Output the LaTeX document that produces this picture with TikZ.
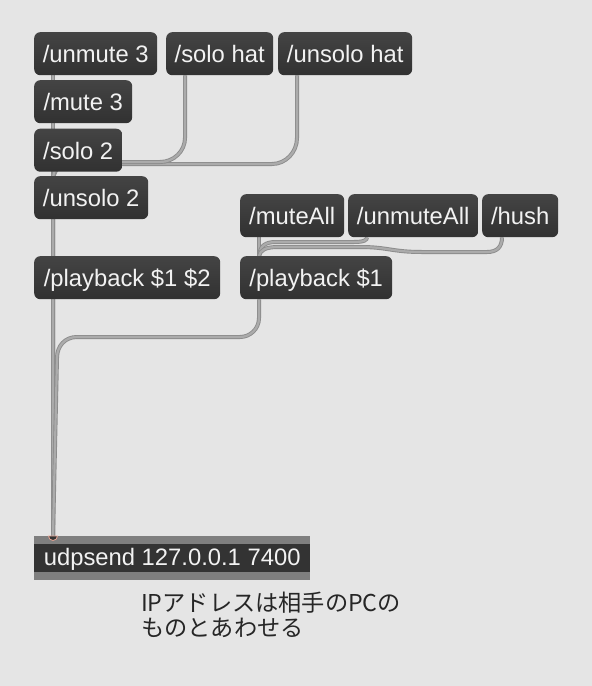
\documentclass[tikz,border=0pt]{standalone}
\usepackage{fontspec}
\setmainfont{Liberation Sans}
\newfontfamily\jpfont{Noto Sans CJK JP}
\usetikzlibrary{calc}
\definecolor{bgc}{HTML}{E5E5E5}
\definecolor{boxtop}{HTML}{444444}
\definecolor{boxbot}{HTML}{313131}
\definecolor{boxtext}{HTML}{F2F2F2}
\definecolor{cordout}{HTML}{8C8C8C}
\definecolor{cordin}{HTML}{ABABAB}
\definecolor{udpgray}{HTML}{7F7F7F}
\definecolor{udpband}{HTML}{333333}
\definecolor{inletc}{HTML}{E6A595}
\definecolor{jptext}{HTML}{262626}
\pgfdeclarelayer{bglayer}
\pgfdeclarelayer{cordlayer}
\pgfdeclarelayer{boxlayer}
\pgfsetlayers{bglayer,cordlayer,boxlayer,main}
\tikzset{
  msgbox/.style={anchor=north west, inner sep=0pt, rounded corners=6pt,
    top color=boxtop, bottom color=boxbot, text=boxtext,
    font=\fontsize{23.8}{28}\selectfont, text height=20pt, text depth=2.4pt,
    minimum height=43pt},
  objbox/.style={anchor=north west, inner sep=0pt, text=boxtext,
    font=\fontsize{23.8}{28}\selectfont, text height=18pt, text depth=4pt,
    minimum height=44pt},
  cord/.style={draw=cordout, line width=0.9pt, double=cordin, double distance=2.2pt},
  jpnote/.style={anchor=base west, inner sep=0pt, text=jptext,
    font=\jpfont\fontsize{23.2}{27}\selectfont},
}
\begin{document}
\begin{tikzpicture}[x=1pt,y=-1pt]
\begin{pgfonlayer}{bglayer}
  \fill[bgc] (0,0) rectangle (592,686);
\end{pgfonlayer}
\useasboundingbox (0,0) rectangle (592,686);

% message boxes
\node[msgbox, minimum width=123pt] (unmute) at (34,32) {/unmute 3};
\node[msgbox, minimum width=107pt] (solohat) at (166,32) {/solo hat};
\node[msgbox, minimum width=134pt] (unsolohat) at (278,32) {/unsolo hat};
\node[msgbox, minimum width=98pt] (mute) at (34,80) {/mute 3};
\node[msgbox, minimum width=88pt] (solo) at (34,128.5) {/solo 2};
\node[msgbox, minimum width=114pt] (unsolo) at (34,176) {/unsolo 2};
\node[msgbox, minimum width=186pt] (pbtwo) at (34,256) {/playback \$1 \$2};
\node[msgbox, minimum width=104pt] (muteall) at (240,194) {/muteAll};
\node[msgbox, minimum width=130pt] (unmuteall) at (348,194) {/unmuteAll};
\node[msgbox, minimum width=76pt] (hush) at (482,194) {/hush};
\node[msgbox, minimum width=152pt] (pbone) at (240,256) {/playback \$1};

% udpsend object
\node[objbox, minimum width=276pt] (udp) at (34,536) {udpsend 127.0.0.1 7400};
\begin{pgfonlayer}{boxlayer}
  \fill[udpgray] (udp.north west) rectangle (udp.south east);
  \fill[udpband] ([yshift=-8pt]udp.north west) rectangle ([yshift=8pt]udp.south east);
\end{pgfonlayer}

% outlets / inlets
\coordinate (in) at ([xshift=19pt]udp.north west);
\coordinate (inpb) at ([xshift=19pt]pbone.north west);
\coordinate (o-unmute) at ([xshift=19pt]unmute.south west);
\coordinate (o-mute) at ([xshift=19pt]mute.south west);
\coordinate (o-solo) at ([xshift=19pt]solo.south west);
\coordinate (o-unsolo) at ([xshift=19pt]unsolo.south west);
\coordinate (o-pbtwo) at ([xshift=19pt]pbtwo.south west);
\coordinate (o-sh) at ([xshift=19pt]solohat.south west);
\coordinate (o-uh) at ([xshift=19pt]unsolohat.south west);
\coordinate (o-ma) at ([xshift=19pt]muteall.south west);
\coordinate (o-ua) at ([xshift=19pt]unmuteall.south west);
\coordinate (o-hu) at ([xshift=20pt]hush.south west);
\coordinate (o-pbone) at ([xshift=19pt]pbone.south west);

\begin{pgfonlayer}{cordlayer}
  % left column straight cords
  \draw[cord] (o-unmute) -- (in);
  \draw[cord] (o-mute) -- (in);
  \draw[cord] (o-solo) -- (in);
  \draw[cord] (o-unsolo) -- (in);
  \draw[cord] (o-pbtwo) -- (in);
  % hat cords
  \draw[cord] (o-uh) -- (297,138) .. controls (297,152) and (286,164) .. (272,164)
     -- (70,164) .. controls (59,164) and (53,171) .. (53,182) -- (in);
  \draw[cord] (o-sh) -- (185,138) .. controls (185,151) and (174,162) .. (160,162)
     -- (70,162) .. controls (59,162) and (53,169) .. (53,180) -- (in);
  % playback $1 cord
  \draw[cord] (o-pbone) -- (259,318) .. controls (259,329) and (250,337) .. (240,337)
     -- (77,337) .. controls (65,337) and (57,346) .. (57,358) -- (in);
  % all cords into playback $1
  \draw[cord] (o-ma) -- (inpb);
  \draw[cord] (o-ua) .. controls (367,240) and (364,242) .. (354,242)
     -- (276,242) .. controls (265,242) and (260,246) .. (inpb);
  \draw[cord] (o-hu) .. controls (502,247) and (497,252) .. (487,252)
     -- (422,252) .. controls (392,252) and (388,247) .. (360,247)
     -- (278,247) .. controls (266,247) and (260,250) .. (inpb);
\end{pgfonlayer}

% inlet of udpsend
\filldraw[fill=udpband, draw=inletc, line width=0.8pt]
  ([xshift=-4.5pt]in) arc[start angle=180, end angle=360, radius=4.5pt] -- cycle;

% comment
\node[jpnote] (jpa) at (141,611.5) {IPアドレスは相手のPCの};
\node[jpnote] (jpb) at (141,636) {ものとあわせる};
\end{tikzpicture}
\end{document}
